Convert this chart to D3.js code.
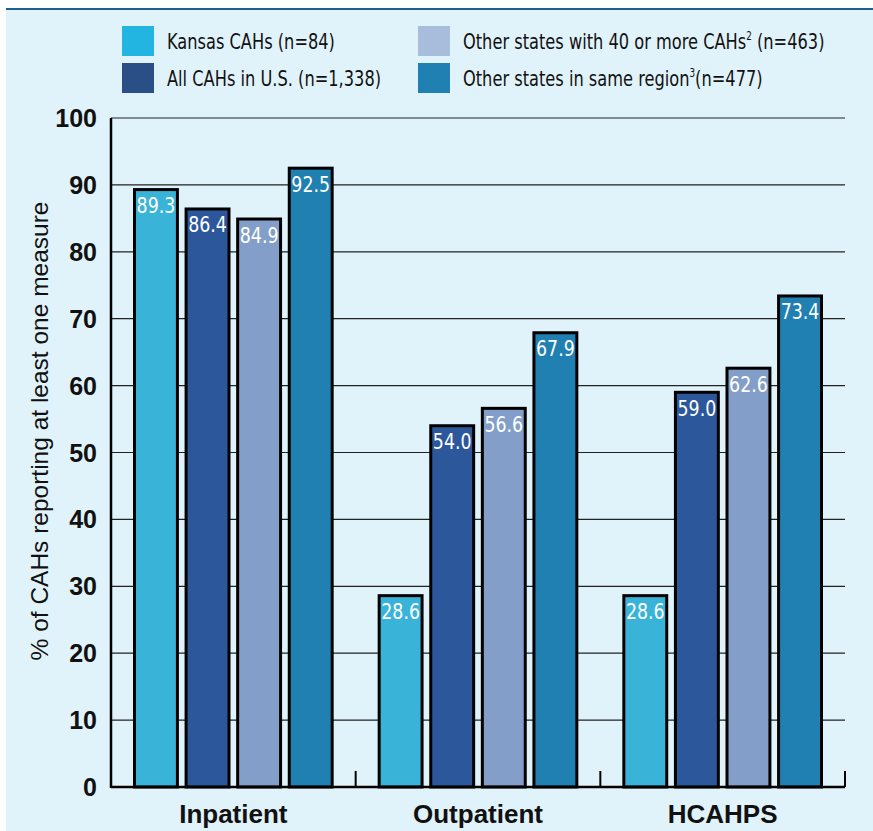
<!DOCTYPE html>
<html>
<head>
<meta charset="utf-8">
<script src="https://cdn.jsdelivr.net/npm/d3@7"></script>
<style>
  body { margin: 0; background: #fff; }
  .narrow { font-family: "Liberation Sans Narrow", "DejaVu Sans Condensed", "Roboto Condensed", sans-serif; font-stretch: condensed; }
  .bold { font-family: "Liberation Sans", Arial, sans-serif; font-weight: bold; }
</style>
</head>
<body>
<svg id="chart" width="873" height="831"></svg>
<script>
const categories = ["Inpatient", "Outpatient", "HCAHPS"];
const seriesNames = ["Kansas CAHs", "All CAHs in U.S.", "Other states with 40 or more CAHs", "Other states in same region"];
const kansas = [89.3, 28.6, 28.6];
const allUS = [86.4, 54.0, 59.0];
const other40 = [84.9, 56.6, 62.6];
const sameRegion = [92.5, 67.9, 73.4];
const yTicks = [0, 10, 20, 30, 40, 50, 60, 70, 80, 90, 100];

const barColors = ["#3ab3d9", "#2c589b", "#839fc9", "#2080b1"];
const legendColors = ["#22b5e1", "#2a4f86", "#a8bcdb", "#1f80b1"];

const series = [kansas, allUS, other40, sameRegion];

const svg = d3.select("#chart");

// background panel
svg.append("rect")
    .attr("x", 6).attr("y", 9)
    .attr("width", 867).attr("height", 822)
    .attr("fill", "#e1f3fa");
svg.append("line")
    .attr("x1", 6).attr("x2", 873)
    .attr("y1", 9).attr("y2", 9)
    .attr("stroke", "#1d5f8f")
    .attr("stroke-width", 2);

const plotLeft = 111, plotRight = 845, plotTop = 118, plotBottom = 787;

const y = d3.scaleLinear().domain([0, 100]).range([plotBottom, plotTop]);
const x0 = d3.scaleBand().domain(categories).range([plotLeft, plotRight]);
const x1 = d3.scaleBand().domain(d3.range(series.length))
    .range([22, x0.bandwidth() - 22])
    .paddingInner(0.11);

// gridlines
svg.append("g").selectAll("line")
    .data(yTicks.filter(d => d > 0))
    .enter().append("line")
    .attr("x1", plotLeft).attr("x2", plotRight)
    .attr("y1", d => y(d)).attr("y2", d => y(d))
    .attr("stroke", "#222")
    .attr("stroke-width", 1.2);

// bars
const groups = svg.append("g").selectAll("g")
    .data(categories)
    .enter().append("g")
    .attr("transform", d => `translate(${x0(d)},0)`);

groups.selectAll("rect")
    .data((c, ci) => series.map((s, si) => ({ si, v: s[ci] })))
    .enter().append("rect")
    .attr("x", d => x1(d.si) + 1.5)
    .attr("width", x1.bandwidth() - 3)
    .attr("y", d => y(d.v))
    .attr("height", d => y(0) - y(d.v))
    .attr("fill", d => barColors[d.si])
    .attr("stroke", "#000")
    .attr("stroke-width", 3);

// condensed value labels (squeezed horizontally)
groups.selectAll("text")
    .data((c, ci) => series.map((s, si) => ({ si, v: s[ci] })))
    .enter().append("text")
    .attr("class", "narrow")
    .attr("transform", d => `translate(${x1(d.si) + x1.bandwidth() / 2},${y(d.v) + 23.5}) scale(0.88,1)`)
    .attr("text-anchor", "middle")
    .attr("fill", "#fff")
    .attr("font-size", 22)
    .text(d => d.v.toFixed(1));

// axes lines
svg.append("line")
    .attr("x1", plotLeft).attr("x2", plotLeft)
    .attr("y1", plotTop).attr("y2", plotBottom + 1)
    .attr("stroke", "#000").attr("stroke-width", 2.5);
svg.append("line")
    .attr("x1", plotLeft).attr("x2", plotRight)
    .attr("y1", plotBottom).attr("y2", plotBottom)
    .attr("stroke", "#000").attr("stroke-width", 2.5);

// category separators
svg.append("g").selectAll("line")
    .data(categories)
    .enter().append("line")
    .attr("x1", d => x0(d) + x0.bandwidth())
    .attr("x2", d => x0(d) + x0.bandwidth())
    .attr("y1", plotBottom - 16).attr("y2", plotBottom)
    .attr("stroke", "#000").attr("stroke-width", 2);

// y tick labels
svg.append("g").selectAll("text")
    .data(yTicks)
    .enter().append("text")
    .attr("class", "bold")
    .attr("x", 97)
    .attr("y", d => y(d))
    .attr("dy", "0.36em")
    .attr("text-anchor", "end")
    .attr("font-size", 25)
    .attr("fill", "#111")
    .text(d => d);

// category labels
svg.append("g").selectAll("text")
    .data(categories)
    .enter().append("text")
    .attr("class", "bold")
    .attr("x", d => x0(d) + x0.bandwidth() / 2)
    .attr("y", 823)
    .attr("text-anchor", "middle")
    .attr("font-size", 26)
    .attr("fill", "#111")
    .text(d => d);

// y axis title
svg.append("text")
    .attr("transform", "translate(48,431) rotate(-90)")
    .attr("text-anchor", "middle")
    .attr("font-family", "Liberation Sans, Arial, sans-serif")
    .attr("font-size", 24.5)
    .attr("fill", "#111")
    .text("% of CAHs reporting at least one measure");

// legend
const legendItems = [
    { i: 0, x: 122, y: 26, label: "Kansas CAHs (n=84)", sup: "" },
    { i: 1, x: 122, y: 63, label: "All CAHs in U.S. (n=1,338)", sup: "" },
    { i: 2, x: 418, y: 26, label: "Other states with 40 or more CAHs", sup: "2", tail: " (n=463)" },
    { i: 3, x: 418, y: 63, label: "Other states in same region", sup: "3", tail: "(n=477)" }
];
const lg = svg.append("g").selectAll("g")
    .data(legendItems)
    .enter().append("g")
    .attr("transform", d => `translate(${d.x},${d.y})`);
lg.append("rect")
    .attr("width", 32).attr("height", 30)
    .attr("fill", d => legendColors[d.i]);
const lt = lg.append("text")
    .attr("class", "narrow")
    .attr("transform", "translate(45,23) scale(0.82,1)")
    .attr("font-size", 22)
    .attr("fill", "#111");
lt.append("tspan").text(d => d.label);
lt.append("tspan")
    .attr("font-size", 12)
    .attr("dy", -9)
    .text(d => d.sup);
lt.append("tspan")
    .attr("dy", d => d.sup ? 9 : 0)
    .text(d => d.tail || "");
</script>
</body>
</html>
